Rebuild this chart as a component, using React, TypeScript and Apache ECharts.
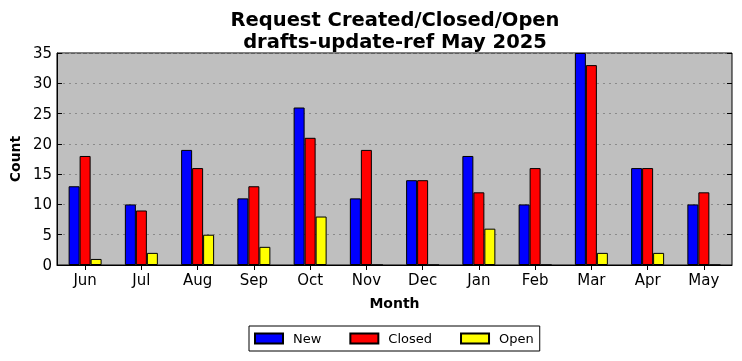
import React, { useEffect, useRef } from "react";
import * as echarts from "echarts";

const months = ["Jun", "Jul", "Aug", "Sep", "Oct", "Nov", "Dec", "Jan", "Feb", "Mar", "Apr", "May"];
const newCounts = [13, 10, 19, 11, 26, 11, 14, 18, 10, 35, 16, 10];
const closedCounts = [18, 9, 16, 13, 21, 19, 14, 12, 16, 33, 16, 12];
const openCounts = [1, 2, 5, 3, 8, 0, 0, 6, 0, 2, 2, 0];
const yTicks = { min: 0, max: 35, interval: 5 };

const FONT = "DejaVu Sans";

export default function App() {
  const ref = useRef<HTMLDivElement>(null);
  useEffect(() => {
    const chart = echarts.init(ref.current!, null, { renderer: "svg" });
    const barStyle = (color: string) => ({ color, borderColor: "#000", borderWidth: 1 });
    chart.setOption({
      animation: false,
      textStyle: { fontFamily: FONT },
      title: {
        text: "Request Created/Closed/Open\ndrafts-update-ref May 2025",
        left: 390,
        textAlign: "center",
        top: 3,
        textStyle: { fontFamily: FONT, fontSize: 19.5, fontWeight: "bold", color: "#000", lineHeight: 22 },
      },
      legend: {
        bottom: 10,
        left: 249,
        icon: "rect",
        itemWidth: 28,
        itemHeight: 10,
        itemGap: 28,
        borderColor: "#000",
        borderWidth: 1,
        padding: [6, 6, 6, 5],
        borderRadius: 0,
        textStyle: { fontFamily: FONT, fontSize: 13, color: "#000", padding: [0, 0, 0, 5] },
        data: ["New", "Closed", "Open"],
      },
      grid: { left: 56, right: 10, top: 53, bottom: 96, containLabel: false, show: true, backgroundColor: "#bfbfbf", borderColor: "#000", borderWidth: 1 },
      xAxis: [
        {
          type: "category",
          data: months,
          name: "Month",
          nameLocation: "middle",
          nameGap: 31,
          nameTextStyle: { fontFamily: FONT, fontSize: 14, fontWeight: "bold", color: "#000" },
          axisLine: { show: true, lineStyle: { color: "#000" } },
          axisTick: { show: true, alignWithLabel: true, inside: true, length: 5, lineStyle: { color: "#000" } },
          axisLabel: { fontFamily: FONT, fontSize: 15, color: "#000", margin: 7 },
          splitLine: { show: false },
        },
        {
          type: "category",
          data: months,
          position: "top",
          axisLine: { show: false },
          axisTick: { show: true, alignWithLabel: true, inside: true, length: 5, lineStyle: { color: "#000" } },
          axisLabel: { show: false },
          splitLine: { show: false },
        },
      ],
      yAxis: [
        {
          type: "value",
          ...yTicks,
          name: "Count",
          nameLocation: "middle",
          nameGap: 32,
          nameTextStyle: { fontFamily: FONT, fontSize: 14, fontWeight: "bold", color: "#000" },
          axisLine: { show: true, lineStyle: { color: "#000" } },
          axisTick: { show: true, inside: true, length: 5, lineStyle: { color: "#000" } },
          axisLabel: { fontFamily: FONT, fontSize: 15, color: "#000", margin: 5 },
          splitLine: { show: true, lineStyle: { color: "#8a8a8a", type: [2, 4], width: 1 } },
        },
        {
          type: "value",
          ...yTicks,
          position: "right",
          axisLine: { show: false },
          axisTick: { show: true, inside: true, length: 5, lineStyle: { color: "#000" } },
          axisLabel: { show: false },
          splitLine: { show: false },
        },
      ],
      series: [
        { name: "New", type: "bar", data: newCounts, barWidth: 11, barGap: "0%", itemStyle: barStyle("#0000ff") },
        { name: "Closed", type: "bar", data: closedCounts, barWidth: 11, barGap: "0%", itemStyle: barStyle("#ff0000") },
        { name: "Open", type: "bar", data: openCounts, barWidth: 11, barGap: "0%", itemStyle: barStyle("#ffff00") },
      ],
    });
    return () => chart.dispose();
  }, []);
  return <div ref={ref} style={{ width: 742, height: 361, position: "fixed", left: 0, top: 0 }} />;
}
